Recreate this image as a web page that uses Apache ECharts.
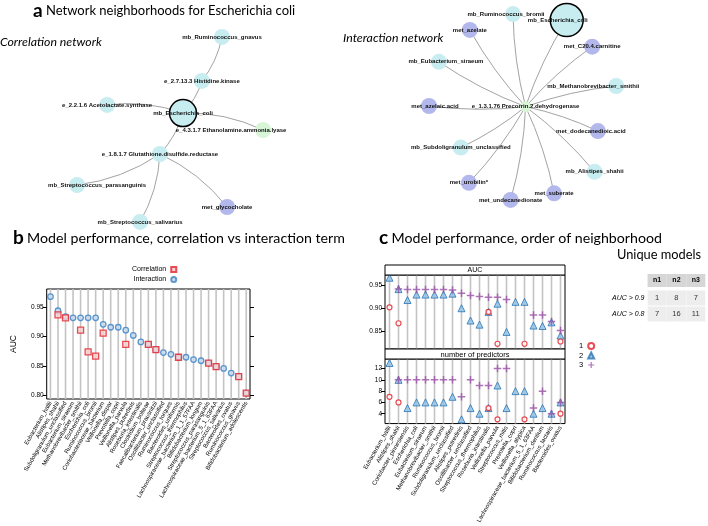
<!DOCTYPE html>
<html><head><meta charset="utf-8">
<script src="https://cdn.jsdelivr.net/npm/echarts@6/dist/echarts.min.js"></script>
<style>html,body{margin:0;padding:0;background:#fff}#c{width:708px;height:526px}</style>
</head><body><div id="c"></div><script>
// ---------- Panel a: correlation network (layout coordinates) ----------
const corrNodes = ['mb_Ruminococcus_gnavus','e_2.7.13.3 Histidine.kinase','e_2.2.1.6 Acetolactate.synthase','mb_Escherichia_coli','e_4.3.1.7 Ethanolamine.ammonia.lyase','e_1.8.1.7 Glutathione.disulfide.reductase','mb_Streptococcus_parasanguinis','met_glycocholate','mb_Streptococcus_salivarius'];
const corrX = [74, 67.3, 35.7, 61, 87.7, 53.3, 25.7, 75.7, 46.7];
const corrY = [92.3, 72.3, 61.4, 57.7, 50, 39.1, 25, 15, 8.2];
const corrType = ['microbe','enzyme','enzyme','microbe','enzymeB','enzyme','microbe','metabolite','microbe'];
const corrEdges = [[0,1],[1,3],[2,3],[3,4],[3,5],[5,6],[5,7],[5,8]];

// ---------- Panel a: interaction network ----------
const interNodes = ['e_1.3.1.76 Precorrin.2.dehydrogenase','mb_Ruminococcus_bromii','mb_Escherichia_coli','met_azelate','met_C20.4.carnitine','mb_Eubacterium_siraeum','mb_Methanobrevibacter_smithii','met_azelaic.acid','met_dodecanedioic.acid','mb_Subdoligranulum_unclassified','mb_Alistipes_shahii','met_urobilin*','met_suberate','met_undecanedionate'];
const interX = [57.2, 53, 70.9, 38.6, 79.4, 28.3, 87.4, 25, 81.3, 35.6, 80.2, 38.3, 66.7, 52.2];
const interY = [60.6, 102.7, 100, 95.5, 87.9, 81, 70, 60.9, 49.5, 42, 31, 26, 21.2, 18.2];
const interType = ['enzymeB','microbe','microbe','metabolite','metabolite','microbe','microbe','metabolite','metabolite','microbe','microbe','metabolite','metabolite','metabolite'];
const interEdges = [[0,1],[0,2],[0,3],[0,4],[0,5],[0,6],[0,7],[0,8],[0,9],[0,10],[0,11],[0,12],[0,13]];
const focusNode = 'mb_Escherichia_coli';

// ---------- Panel b ----------
const bCats = ['Eubacterium_hallii','Alistipes_shahii','Subdoligranulum_unclassified','Eubacterium_siraeum','Methanobrevibacter_smithii','Escherichia_coli','Ruminococcus_bromii','Coriobacteriaceae_bacterium','Veillonella_dispar','Prevotella_copri','Veillonella_parvula','Alistipes_putredinis','Roseburia_intestinalis','Clostridium_bolteae','Faecalibacterium_prausnitzii','Oscillibacter_unclassified','Ruminococcus_torques','Bacteroides_uniformis','Streptococcus_thermophilus','Lachnospiraceae_bacterium_1_1_57FAA','Bifidobacterium_longum','Streptococcus_parasanguinis','Lachnospiraceae_bacterium_5_1_63FAA','Streptococcus_salivarius','Bacteroides_ovatus','Ruminococcus_gnavus','Bifidobacterium_adolescentis'];
const bInteraction = [0.968,0.944,0.934,0.932,0.932,0.932,0.932,0.921,0.916,0.916,0.911,0.902,0.891,0.887,0.878,0.873,0.870,0.865,0.865,0.861,0.859,0.855,0.849,0.846,0.838,0.832,0.804];
const bCorrelation = [null,0.937,0.932,null,0.911,0.874,0.867,0.906,null,null,0.887,null,null,0.887,0.878,null,null,0.865,null,null,null,0.855,0.849,null,null,0.832,0.804];
const bTicks = [0.80,0.85,0.90,0.95];

// ---------- Panel c ----------
const cCats = ['Eubacterium_hallii','Alistipes_shahii','Coriobacter_pinnesiensis','Escherichia_coli','Eubacterium_siraeum','Methanobrevibacter_smithii','Ruminococcus_bromii','Subdoligranulum_unclassified','Alistipes_putredinis','Oscillibacter_unclassified','Streptococcus_thermophilus','Roseburia_intestinalis','Veillonella_parvula','Streptococcus_mitis','Prevotella_copri','Veillonella_atypica','Lachnospiraceae_bacterium_5_1_63FAA','Bifidobacterium_dentium','Ruminococcus_lactaris','Bacteroides_ovatus'];
const aucN1 = [0.902,0.867,null,null,null,null,null,null,null,null,null,0.892,0.822,null,null,0.822,null,null,null,0.827];
const aucN2 = [0.967,0.942,0.918,0.930,0.930,0.930,0.930,0.932,0.900,0.873,0.864,0.892,0.910,0.848,0.914,0.914,0.862,0.861,0.869,0.840];
const aucN3 = [null,0.942,0.941,0.941,0.941,0.941,0.941,0.940,0.933,0.928,0.926,0.924,0.924,0.919,null,null,0.885,0.885,0.871,0.851];
const predN1 = [7,6,null,null,null,null,null,null,null,null,null,5,3,null,null,3,null,null,null,4];
const predN2 = [13,10,5,6,6,6,6,7,3,5,4,5,9,5,8,8,4,5,4,6];
const predN3 = [null,10,10,10,10,10,10,10,7,10,9,9,12,12,null,null,5,8,4,6];
const aucTicks = [0.85,0.90,0.95];
const predTicks = [4,6,8,10,12];

// ---------- Table ----------
const tableCols = ['n1','n2','n3'];
const tableRows = ['AUC > 0.9','AUC > 0.8'];
const tableVals = [[1,8,7],[7,16,11]];

// ================= styling / building =================
const SANS = 'Liberation Sans';
const TITLE = 'Lato';
const catStyle = {
  microbe: {color:'#c8edf0'},
  metabolite: {color:'#b3b8ec'},
  enzyme: {color:'#c8edf0'},
  enzymeB: {color:'#d8f5d8'}
};
const labelShift = {
  'e_4.3.1.7 Ethanolamine.ammonia.lyase':[-32,0],
  'mb_Streptococcus_parasanguinis':[20,0],
  'mb_Ruminococcus_bromii':[-7,0],
  'mb_Escherichia_coli@i':[-9,0],
  'mb_Eubacterium_siraeum':[7,0],
  'mb_Methanobrevibacter_smithii':[-23,0],
  'met_azelaic.acid':[6,0],
  'met_dodecanedioic.acid':[-7,0]
};
function graphSeries(names, xs, ys, types, edges, gi, big, tag, curve){
  const cats = ['microbe','metabolite','enzyme','enzymeB'];
  return {
    type:'graph', coordinateSystem:'cartesian2d', xAxisIndex:gi, yAxisIndex:gi,
    categories: cats.map(c=>({name:c, itemStyle:catStyle[c]})),
    symbolSize: 16,
    data: names.map((n,i)=>{
      const isFocus = n===focusNode;
      const sh = labelShift[isFocus? n+tag : n] || [0,0];
      return {
        name:n, value:[xs[i],ys[i]], category:cats.indexOf(types[i]),
        symbolSize: isFocus? big : (types[i]==='enzymeB' && tag==='@i' ? 11 : 16),
        itemStyle: isFocus? {borderColor:'#000', borderWidth:1.5} : {},
        label:{offset:sh}
      };
    }),
    links: edges.map(e=>({source:names[e[0]], target:names[e[1]]})),
    lineStyle:{color:'#a3a3a3', width:1, curveness:curve, opacity:1},
    label:{show:true, position:'inside', fontSize:6, fontWeight:'bold', fontFamily:SANS, color:'#111'},
    emphasis:{disabled:true}, silent:true, animation:false, z:2
  };
}

const plusPath = 'path://M4,0L6,0L6,4L10,4L10,6L6,6L6,10L4,10L4,6L0,6L0,4L4,4Z';
const gridLineColor = '#c4c4c4';

// full-height thin bars draw the lattice's vertical reference line at each category
function vLines(cats, gi, top){
  return {type:'bar', name:'_lines'+gi, xAxisIndex:gi, yAxisIndex:gi, data:cats.map(()=>top),
    barWidth:1.6, clip:true, silent:true, z:1, itemStyle:{color:gridLineColor}, emphasis:{disabled:true}};
}
function catAxis(cats, gi, showLabels){
  return {type:'category', gridIndex:gi, data:cats, boundaryGap:true,
    axisLine:{show:false}, axisTick:{show:false}, splitLine:{show:false},
    axisLabel:{show:showLabels, rotate:60, fontSize:6, fontFamily:SANS, color:'#000', margin:3, interval:0}};
}
function valAxis(gi, min, max, ticks, opts){
  opts = opts||{};
  return Object.assign({type:'value', gridIndex:gi, min:min, max:max,
    axisLine:{show:false}, splitLine:{show:false},
    axisTick:{show:true, inside:false, length:4, customValues:ticks, lineStyle:{color:'#000', width:1}},
    axisLabel:{show:true, customValues:ticks, fontSize:6.5, fontFamily:SANS, color:'#000', margin:3,
      formatter: opts.fmt || (v=>v)}}, opts.extra||{});
}

const chart = echarts.init(document.getElementById('c'), null, {renderer:'canvas'});
const richTitle = (big)=>({L:{fontFamily:TITLE, fontWeight:'bold', fontSize:19, fill:'#000'}, T:{fontFamily:TITLE, fontSize:big, fill:'#000'}});
const option = {
  backgroundColor:'#fff',
  animation:false,
  grid:[
    {left:0, top:0, width:354, height:240, show:false},
    {left:354, top:0, width:354, height:240, show:false},
    {left:46.7, top:289, width:203.3, height:110, show:true, borderColor:'#000', borderWidth:1, backgroundColor:'#fff'},
    {left:385, top:275, width:180, height:74, show:true, borderColor:'#000', borderWidth:1, backgroundColor:'#fff'},
    {left:385, top:359, width:180, height:74, show:true, borderColor:'#000', borderWidth:1, backgroundColor:'#fff'},
    {left:647.5, top:290, width:60, height:32, show:false}
  ],
  xAxis:[
    {type:'value', gridIndex:0, min:0, max:118, show:false},
    {type:'value', gridIndex:1, min:0, max:118, show:false},
    catAxis(bCats, 2, true),
    catAxis(cCats, 3, false),
    catAxis(cCats, 4, true),
    {type:'category', gridIndex:5, data:tableCols, position:'top', axisLine:{show:false}, axisTick:{show:false},
      axisLabel:{fontSize:7, fontWeight:'bold', fontFamily:SANS, color:'#000', backgroundColor:'#d6d6d6', padding:[3,5.5,3,5.5], margin:3}}
  ],
  yAxis:[
    {type:'value', gridIndex:0, min:0, max:109.1, show:false},
    {type:'value', gridIndex:1, min:0, max:109.1, show:false},
    valAxis(2, 0.794, 0.981, bTicks, {fmt:v=>v.toFixed(2), extra:{name:'AUC', nameLocation:'middle', nameGap:29, nameTextStyle:{fontSize:8.5, fontFamily:SANS, color:'#000'}}}),
    valAxis(3, 0.8105, 0.973, aucTicks, {fmt:v=>v.toFixed(2)}),
    valAxis(4, 2.25, 13.7, predTicks),
    {type:'category', gridIndex:5, data:tableRows, inverse:true, axisLine:{show:false}, axisTick:{show:false},
      axisLabel:{fontSize:7, fontStyle:'italic', fontFamily:SANS, color:'#000', margin:3}},
    Object.assign(valAxis(2, 0.794, 0.981, bTicks), {position:'right', axisLabel:{show:false}})
  ],
  legend:[
    {data:['Correlation','Interaction'], orient:'vertical', left:127, top:261, align:'right',
      itemWidth:5, itemHeight:5, itemGap:3, itemTextGap:10, selectedMode:false,
      textStyle:{fontSize:7, fontFamily:SANS, color:'#000'}},
    {data:['1','2','3'], orient:'vertical', left:574, top:337, align:'right',
      itemWidth:6, itemHeight:6, itemGap:1.5, itemTextGap:8, selectedMode:false,
      textStyle:{fontSize:7.5, fontFamily:SANS, color:'#000'}}
  ],
  series:[
    graphSeries(corrNodes, corrX, corrY, corrType, corrEdges, 0, 27, '@c', 0.12),
    graphSeries(interNodes, interX, interY, interType, interEdges, 1, 33, '@i', 0.06),
    vLines(bCats, 2, 1),
    {type:'scatter', name:'Interaction', xAxisIndex:2, yAxisIndex:2, data:bInteraction, symbol:'circle', symbolSize:5.5, z:3,
      itemStyle:{color:'#c9dcef', borderColor:'#3b7fc4', borderWidth:1.3}},
    {type:'scatter', name:'Correlation', xAxisIndex:2, yAxisIndex:2, data:bCorrelation, symbol:'rect', symbolSize:6, z:4,
      itemStyle:{color:'#f6cfcf', borderColor:'#e3222a', borderWidth:1.3}},
    vLines(cCats, 3, 1),
    vLines(cCats, 4, 100),
    {type:'scatter', name:'2', xAxisIndex:3, yAxisIndex:3, data:aucN2, symbol:'triangle', symbolSize:7, z:3,
      itemStyle:{color:'#8fc3e6', borderColor:'#2b73b3', borderWidth:1}},
    {type:'scatter', name:'3', xAxisIndex:3, yAxisIndex:3, data:aucN3, symbol:plusPath, symbolSize:7.5, z:4,
      itemStyle:{color:'#9a4fa6'}},
    {type:'scatter', name:'1', xAxisIndex:3, yAxisIndex:3, data:aucN1, symbol:'circle', symbolSize:5, z:5,
      itemStyle:{color:'#fff', borderColor:'#e3222a', borderWidth:1.2}},
    {type:'scatter', name:'2', xAxisIndex:4, yAxisIndex:4, data:predN2, symbol:'triangle', symbolSize:7, z:3,
      itemStyle:{color:'#8fc3e6', borderColor:'#2b73b3', borderWidth:1}},
    {type:'scatter', name:'3', xAxisIndex:4, yAxisIndex:4, data:predN3, symbol:plusPath, symbolSize:7.5, z:4,
      itemStyle:{color:'#9a4fa6'}},
    {type:'scatter', name:'1', xAxisIndex:4, yAxisIndex:4, data:predN1, symbol:'circle', symbolSize:5, z:5,
      itemStyle:{color:'#fff', borderColor:'#e3222a', borderWidth:1.2}},
    {type:'scatter', name:'_table', xAxisIndex:5, yAxisIndex:5, symbol:'rect', symbolSize:[19,15], z:2,
      itemStyle:{color:'#e8e8e8'},
      label:{show:true, position:'inside', fontSize:7.5, fontFamily:SANS, color:'#000', formatter:p=>String(p.value[2])},
      data: tableVals.flatMap((row,ri)=>row.map((v,ci)=>[ci,ri,v]))}
  ],
  graphic:[
    {type:'text', x:33, y:11, style:{text:'{L|a} {T|Network neighborhoods for Escherichia coli}', textVerticalAlign:'middle', rich:richTitle(13)}},
    {type:'text', x:13, y:238, style:{text:'{L|b} {T|Model performance, correlation vs interaction term}', textVerticalAlign:'middle', rich:richTitle(14.2)}},
    {type:'text', x:379, y:238, style:{text:'{L|c} {T|Model performance, order of neighborhood}', textVerticalAlign:'middle', rich:richTitle(14.2)}},
    {type:'text', x:0, y:42, style:{text:'Correlation network', font:'italic 12.3px Lato', fill:'#000', textVerticalAlign:'middle'}},
    {type:'text', x:343, y:38, style:{text:'Interaction network', font:'italic 12.3px Lato', fill:'#000', textVerticalAlign:'middle'}},
    {type:'text', x:617, y:255, style:{text:'Unique models', font:'12.8px Lato', fill:'#000', textVerticalAlign:'middle'}},
    {type:'rect', shape:{x:385, y:265, width:180, height:10}, style:{fill:'#fff', stroke:'#000', lineWidth:1}, z:10},
    {type:'text', x:475, y:270.5, style:{text:'AUC', font:'7px "Liberation Sans"', fill:'#000', textAlign:'center', textVerticalAlign:'middle'}, z:11},
    {type:'rect', shape:{x:385, y:349, width:180, height:10}, style:{fill:'#fff', stroke:'#000', lineWidth:1}, z:10},
    {type:'text', x:475, y:354.5, style:{text:'number of predictors', font:'7.5px "Liberation Sans"', fill:'#000', textAlign:'center', textVerticalAlign:'middle'}, z:11}
  ]
};
chart.setOption(option);
</script></body></html>
